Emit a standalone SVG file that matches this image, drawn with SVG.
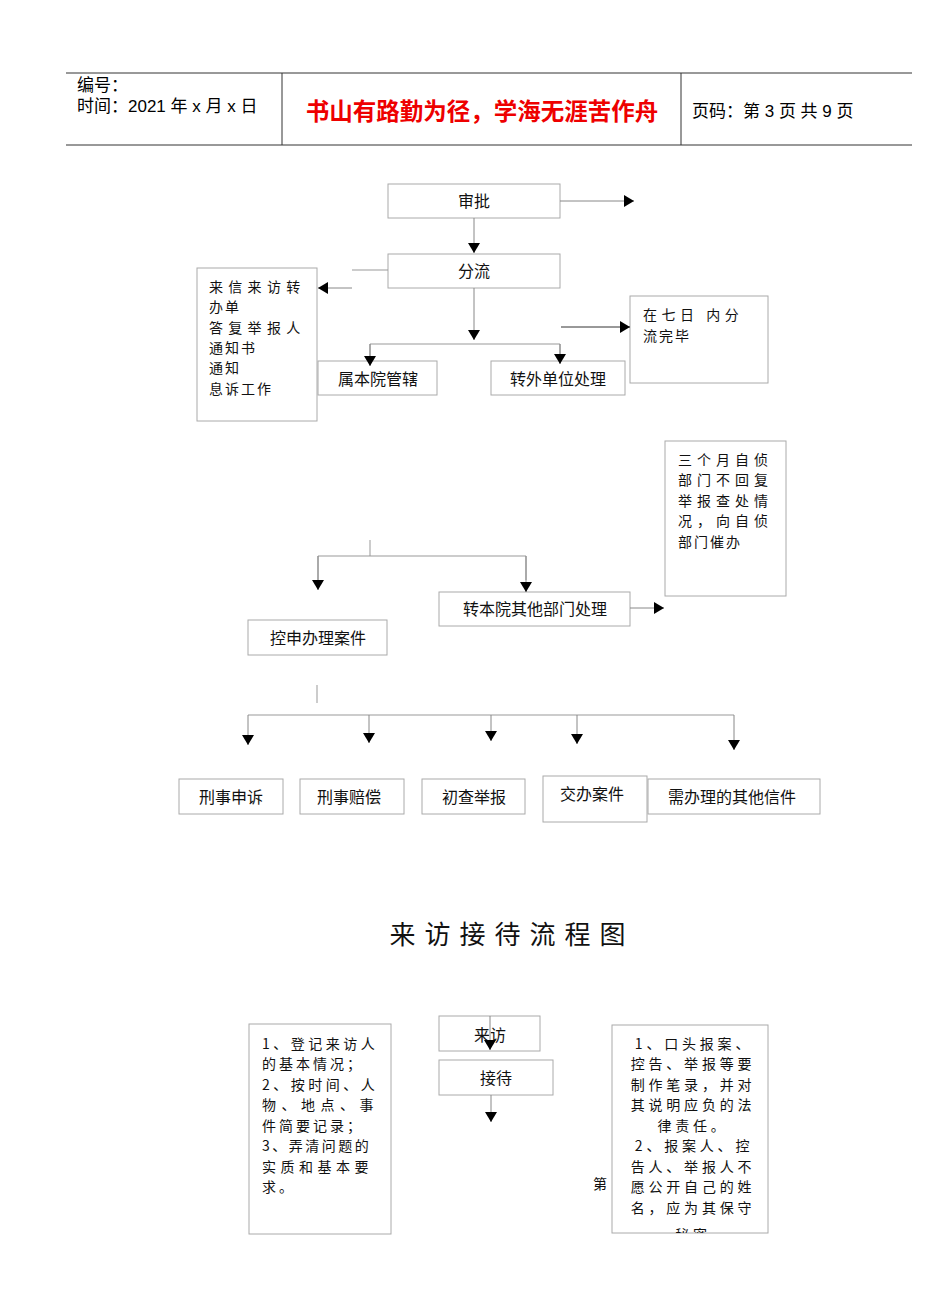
<svg xmlns="http://www.w3.org/2000/svg" width="950" height="1314" viewBox="0 0 950 1314">
<defs>
<marker id="ah" markerWidth="10" markerHeight="12" refX="10" refY="6" orient="auto" markerUnits="userSpaceOnUse"><path d="M0,0 L10,6 L0,12 Z" fill="#000"/></marker>
<clipPath id="clipR"><rect x="612" y="1025" width="156" height="208"/></clipPath>
</defs>
<style>
.t{font-family:"Noto Sans CJK SC","Liberation Serif",serif;font-size:16px;fill:#111}
.s{font-family:"Noto Sans CJK SC","Liberation Serif",serif;font-size:14px;fill:#111}
.h{font-family:"Liberation Sans","Noto Sans CJK SC",sans-serif;font-size:17px;fill:#000}
.b{fill:#fff;stroke:#aaa;stroke-width:1}
.c{fill:none;stroke:#999;stroke-width:1}
.a{fill:none;stroke:#888;stroke-width:1;marker-end:url(#ah)}
.m{text-anchor:middle}
</style>
<rect width="950" height="1314" fill="#fff"/>
<g id="header">
<line x1="66" y1="73" x2="912" y2="73" stroke="#333" stroke-width="1"/>
<line x1="66" y1="145" x2="912" y2="145" stroke="#333" stroke-width="1"/>
<line x1="282" y1="73" x2="282" y2="145" stroke="#333" stroke-width="1"/>
<line x1="681" y1="73" x2="681" y2="145" stroke="#333" stroke-width="1"/>
<text class="h" x="77" y="91">编号：</text>
<text class="h" x="77" y="112">时间：2021 年 x 月 x 日</text>
<text x="482" y="120" text-anchor="middle" style="font-family:'Noto Sans CJK SC',sans-serif;font-size:23.5px;font-weight:bold;fill:#e00">书山有路勤为径，学海无涯苦作舟</text>
<text class="h" x="692" y="117">页码：第 3 页  共 9 页</text>
</g>
<g id="n-shenpi"><rect class="b" x="388" y="184" width="172" height="34"/><text class="t m" x="474" y="207">审批</text></g>
<g id="n-fenliu"><rect class="b" x="388" y="254" width="172" height="34"/><text class="t m" x="474" y="277">分流</text></g>
<g id="n-laixin"><rect class="b" x="197" y="268" width="120" height="153"/>
<text class="s" letter-spacing="2"><tspan x="209" y="292" letter-spacing="5.3">来信来访转</tspan><tspan x="209" y="312">办单</tspan><tspan x="209" y="333" letter-spacing="5.3">答复举报人</tspan><tspan x="209" y="353">通知书</tspan><tspan x="209" y="373">通知</tspan><tspan x="209" y="394">息诉工作</tspan></text></g>
<g id="n-shuben"><rect class="b" x="318" y="361" width="119" height="34"/><text class="t m" x="378" y="385">属本院管辖</text></g>
<g id="n-zhuanwai"><rect class="b" x="491" y="361" width="134" height="34"/><text class="t m" x="558" y="385">转外单位处理</text></g>
<g id="n-qiri"><rect class="b" x="630" y="296" width="138" height="87"/>
<text class="s" letter-spacing="2"><tspan x="643" y="320" letter-spacing="4.5">在七日  内分</tspan><tspan x="643" y="341">流完毕</tspan></text></g>
<g id="n-sangeyue"><rect class="b" x="665" y="441" width="121" height="155"/>
<text class="s" letter-spacing="5"><tspan x="678" y="465">三个月自侦</tspan><tspan x="678" y="485">部门不回复</tspan><tspan x="678" y="506">举报查处情</tspan><tspan x="678" y="526">况，向自侦</tspan><tspan x="678" y="547" letter-spacing="2">部门催办</tspan></text></g>
<g id="n-zhuanben"><rect class="b" x="439" y="592" width="191" height="34"/><text class="t m" x="535" y="615">转本院其他部门处理</text></g>
<g id="n-kongshen"><rect class="b" x="248" y="620" width="139" height="35"/><text class="t m" x="318" y="644">控申办理案件</text></g>
<g id="n-xsss"><rect class="b" x="179" y="779" width="104" height="35"/><text class="t m" x="231" y="803">刑事申诉</text></g>
<g id="n-xspc"><rect class="b" x="300" y="779" width="104" height="35"/><text class="t m" x="349" y="803">刑事赔偿</text></g>
<g id="n-ccjb"><rect class="b" x="422" y="779" width="103" height="35"/><text class="t m" x="474" y="803">初查举报</text></g>
<g id="n-jbaj"><rect class="b" x="543" y="776" width="104" height="46"/><text class="t m" x="592" y="800">交办案件</text></g>
<g id="n-qita"><rect class="b" x="648" y="779" width="172" height="35"/><text class="t m" x="732" y="803">需办理的其他信件</text></g>
<g id="title"><text x="512" y="944" text-anchor="middle" letter-spacing="9" style="font-family:'Noto Sans CJK SC',sans-serif;font-size:26px;fill:#111">来访接待流程图</text></g>
<g id="n-left2"><rect class="b" x="249" y="1024" width="142" height="210"/>
<text class="s" letter-spacing="3"><tspan x="262" y="1049" letter-spacing="3.5">1、登记来访人</tspan><tspan x="262" y="1069">的基本情况；</tspan><tspan x="262" y="1090" letter-spacing="3.5">2、按时间、人</tspan><tspan x="262" y="1110" letter-spacing="5.5">物、地点、事</tspan><tspan x="262" y="1131">件简要记录；</tspan><tspan x="262" y="1151" letter-spacing="2.5">3、弄清问题的</tspan><tspan x="262" y="1172" letter-spacing="4.5">实质和基本要</tspan><tspan x="262" y="1192">求。</tspan></text></g>
<g id="n-laifang"><rect class="b" x="439" y="1016" width="101" height="35"/><text class="t m" x="490" y="1041">来访</text></g>
<g id="n-jiedai"><rect class="b" x="439" y="1060" width="114" height="35"/><text class="t m" x="496" y="1084">接待</text></g>
<text class="s" x="593" y="1189">第</text>
<g id="n-right2"><rect class="b" x="612" y="1025" width="156" height="208"/>
<g clip-path="url(#clipR)">
<text class="s m" letter-spacing="3.8"><tspan x="694" y="1049">1、口头报案、</tspan><tspan x="693" y="1069">控告、举报等要</tspan><tspan x="693" y="1090">制作笔录，并对</tspan><tspan x="693" y="1110">其说明应负的法</tspan><tspan x="693" y="1131">律责任。</tspan><tspan x="694" y="1151">2、报案人、控</tspan><tspan x="693" y="1172">告人、举报人不</tspan><tspan x="693" y="1192">愿公开自己的姓</tspan><tspan x="693" y="1213">名，应为其保守</tspan><tspan x="693" y="1240">秘密</tspan></text>
</g></g>
<g id="connectors">
<line class="a" x1="560" y1="201" x2="634" y2="201"/>
<line class="a" x1="474" y1="218" x2="474" y2="253"/>
<line class="c" x1="352" y1="270" x2="388" y2="270"/>
<line class="a" x1="352" y1="288" x2="318" y2="288"/>
<line class="a" x1="474" y1="288" x2="474" y2="340"/>
<polyline class="c" points="370,356 370,344 560,344 560,356"/>
<line class="a" x1="370" y1="344" x2="370" y2="366"/>
<line class="a" x1="560" y1="344" x2="560" y2="364"/>
<line x1="561" y1="327" x2="630" y2="327" stroke="#333" stroke-width="1" marker-end="url(#ah)"/>
<line class="c" x1="370" y1="540" x2="370" y2="556"/>
<polyline class="c" points="318,580 318,556 526,556 526,580"/>
<line class="a" x1="318" y1="556" x2="318" y2="590"/>
<line class="a" x1="526" y1="556" x2="526" y2="592"/>
<line class="a" x1="630" y1="608" x2="664" y2="608"/>
<line class="c" x1="317" y1="685" x2="317" y2="703"/>
<line class="c" x1="248" y1="715" x2="734" y2="715"/>
<line class="a" x1="248" y1="715" x2="248" y2="745"/>
<line class="a" x1="369" y1="715" x2="369" y2="743"/>
<line class="a" x1="491" y1="715" x2="491" y2="741"/>
<line class="a" x1="577" y1="715" x2="577" y2="744"/>
<line class="a" x1="734" y1="715" x2="734" y2="750"/>
<line class="a" x1="490" y1="1016" x2="490" y2="1050"/>
<line class="a" x1="491" y1="1095" x2="491" y2="1122"/>
</g>
</svg>
